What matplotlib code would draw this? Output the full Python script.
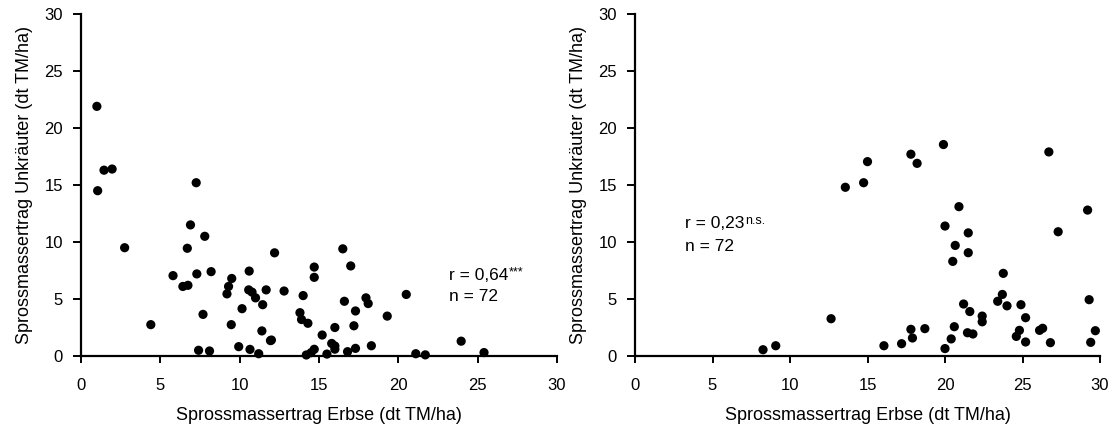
import matplotlib
matplotlib.use("Agg")
import matplotlib.pyplot as plt

plt.rcParams['font.family'] = ['Liberation Sans', 'DejaVu Sans']

# Left panel: pea shoot yield vs weed shoot yield
left_x = [1.0, 1.45, 1.96, 7.26, 1.05, 6.9, 7.8, 2.75, 6.7, 12.2,
          8.2, 5.8, 7.3, 10.6, 14.7, 14.7, 9.5, 9.3, 9.2, 6.42,
          6.74, 10.57, 10.78, 11.67, 11.0, 12.8, 14.0, 11.45, 10.15, 13.8,
          13.9, 14.3, 7.69, 4.4, 9.47, 11.4, 11.94, 9.94, 10.65, 7.41,
          8.1, 11.2, 14.7, 14.5, 14.2, 15.2, 16.5, 17.0, 20.5, 16.6,
          17.96, 18.1, 17.3, 19.3, 16.0, 17.2, 15.8, 16.0, 16.0, 18.3,
          17.3, 16.8, 15.5, 23.96, 25.4, 21.1, 21.7, 12.0]
left_y = [21.9, 16.3, 16.4, 15.2, 14.5, 11.5, 10.5, 9.5, 9.45, 9.05,
          7.4, 7.05, 7.2, 7.45, 7.8, 6.9, 6.8, 6.1, 5.45, 6.1,
          6.2, 5.8, 5.6, 5.8, 5.1, 5.7, 5.3, 4.5, 4.15, 3.8,
          3.2, 2.87, 3.65, 2.75, 2.75, 2.2, 1.35, 0.82, 0.58, 0.5,
          0.44, 0.2, 0.59, 0.29, 0.09, 1.84, 9.4, 7.9, 5.4, 4.8,
          5.1, 4.6, 3.95, 3.5, 2.5, 2.65, 1.1, 0.88, 0.6, 0.9,
          0.67, 0.38, 0.17, 1.3, 0.3, 0.2, 0.1, 1.4]

# Right panel
right_x = [15.0, 14.75, 13.57, 12.65, 8.26, 9.08, 16.06, 17.2, 17.8, 18.2,
           19.9, 26.7, 20.9, 20.0, 21.5, 20.66, 21.5, 20.5, 29.2, 27.3,
           23.76, 23.7, 23.4, 24.0, 24.9, 21.2, 21.6, 22.4, 22.4, 25.2,
           29.3, 17.8, 17.9, 18.7, 20.6, 20.4, 20.0, 21.45, 21.8, 24.8,
           24.6, 25.2, 26.1, 26.3, 26.8, 29.4, 29.7]
right_y = [17.05, 15.2, 14.8, 3.27, 0.55, 0.9, 0.9, 1.08, 17.7, 16.9,
           18.55, 17.9, 13.1, 11.4, 10.8, 9.7, 9.06, 8.3, 12.8, 10.9,
           7.25, 5.4, 4.8, 4.4, 4.5, 4.56, 3.9, 3.5, 3.0, 3.36,
           4.94, 2.34, 1.58, 2.4, 2.57, 1.5, 0.65, 2.04, 1.93, 2.25,
           1.72, 1.23, 2.25, 2.43, 1.17, 1.2, 2.22]

ticks = [0, 5, 10, 15, 20, 25, 30]
xlabel = "Sprossmassertrag Erbse (dt TM/ha)"
ylabel = "Sprossmassertrag Unkräuter (dt TM/ha)"

fig = plt.figure(figsize=(11.12, 4.30), dpi=100)
ax1 = fig.add_axes([81/1112, 74/430, 476/1112, 342/430])
ax2 = fig.add_axes([635/1112, 74/430, 465/1112, 342/430])

for ax, xs, ys in [(ax1, left_x, left_y), (ax2, right_x, right_y)]:
    ax.scatter(xs, ys, s=44, color='black', edgecolors='none', clip_on=False, zorder=3)
    ax.set_xlim(0, 30)
    ax.set_ylim(0, 30)
    ax.set_xticks(ticks)
    ax.set_yticks(ticks)
    ax.spines['top'].set_visible(False)
    ax.spines['right'].set_visible(False)
    ax.spines['left'].set_linewidth(1.6)
    ax.spines['bottom'].set_linewidth(1.6)
    ax.tick_params(axis='x', direction='out', length=5, width=1.4, pad=11, labelsize=12)
    ax.tick_params(axis='y', direction='out', length=6, width=1.4, pad=7, labelsize=12)
    ax.set_xlabel(xlabel, fontsize=13, labelpad=10)
    ax.set_ylabel(ylabel, fontsize=13, labelpad=8)

t1 = ax1.text(23.2, 7.1, "r = 0,64", fontsize=12.5, va='center', ha='left')
ax1.annotate("***", xy=(1.0, 1.0), xycoords=t1, xytext=(0.5, 1), textcoords='offset points',
             fontsize=9, va='top', ha='left')
ax1.text(23.2, 5.2, "n = 72", fontsize=12.5, va='center', ha='left')

t2 = ax2.text(3.2, 11.6, "r = 0,23", fontsize=12.5, va='center', ha='left')
ax2.annotate("n.s.", xy=(1.0, 1.0), xycoords=t2, xytext=(0.5, 1), textcoords='offset points',
             fontsize=9, va='top', ha='left')
ax2.text(3.2, 9.6, "n = 72", fontsize=12.5, va='center', ha='left')

fig.savefig("out.png", dpi=100)
